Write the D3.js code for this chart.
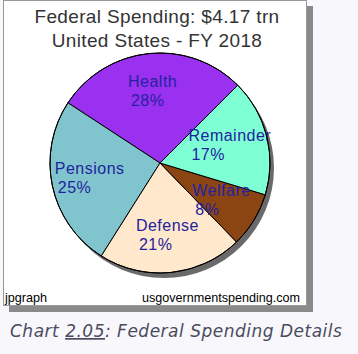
<!DOCTYPE html>
<html>
<head>
<meta charset="utf-8">
<script src="https://cdn.jsdelivr.net/npm/d3@7"></script>
<style>
  html, body { margin: 0; padding: 0; background: #f8f8fc; }
  svg { display: block; }
</style>
</head>
<body>
<div id="chart"></div>
<script>
// chart values (percent of total spending), in jpgraph's counterclockwise order
const categories = ["Health", "Pensions", "Defense", "Welfare", "Remainder"];
const shares = [28, 25, 21, 8, 17];
const sliceColors = ["#9a30f0", "#80c5cd", "#ffe8cc", "#8b4513", "#7fffd4"];
const titleLines = ["Federal Spending: $4.17 trn", "United States - FY 2018"];
const caption = { pre: "Chart ", num: "2.05", post: ": Federal Spending Details" };

const width = 358;
const height = 354;

const svg = d3.select("#chart")
    .append("svg")
    .attr("width", width)
    .attr("height", height);

// box shadow, then the white image box
svg.append("rect")
    .attr("x", 9).attr("y", 6)
    .attr("width", 304).attr("height", 306)
    .attr("fill", "#8a8a8a");
svg.append("rect")
    .attr("x", 3.5).attr("y", 0.5)
    .attr("width", 303).attr("height", 305)
    .attr("fill", "#fff")
    .attr("stroke", "#9a9a9a");

// title
svg.append("g")
    .selectAll("text")
    .data(titleLines)
    .enter()
    .append("text")
    .attr("x", 157)
    .attr("y", (d, i) => 23 + i * 24)
    .attr("text-anchor", "middle")
    .attr("font-family", "Liberation Sans, Arial, sans-serif")
    .attr("font-size", 19)
    .attr("letter-spacing", 0.35)
    .attr("fill", "#333")
    .text(d => d);

// pie
const cx = 160, cy = 163, radius = 110;
const pie = d3.pie()
    .sort(null)
    .startAngle(Math.PI / 4)
    .endAngle(Math.PI / 4 - 2 * Math.PI);
const arcs = pie(shares);
const arc = d3.arc().innerRadius(0).outerRadius(radius);
const labelArc = d3.arc().innerRadius(72).outerRadius(72);

const g = svg.append("g").attr("transform", `translate(${cx},${cy})`);

g.append("circle")
    .attr("cx", 4).attr("cy", 5)
    .attr("r", radius)
    .attr("fill", "#6a6a6a");

g.selectAll("path.slice")
    .data(arcs)
    .enter()
    .append("path")
    .attr("class", "slice")
    .attr("d", arc)
    .attr("fill", (d, i) => sliceColors[i])
    .attr("stroke", "#000")
    .attr("stroke-width", 1);

// labels: two lines, left aligned, block centred on the label point
const labels = g.selectAll("g.label")
    .data(arcs)
    .enter()
    .append("g")
    .attr("class", "label");

labels.each(function(d, i) {
    const grp = d3.select(this);
    const [lx, ly] = labelArc.centroid(d);
    const lines = [categories[i], d.data + "%"];
    const texts = grp.selectAll("text")
        .data(lines)
        .enter()
        .append("text")
        .attr("font-family", "Liberation Sans, Arial, sans-serif")
        .attr("font-size", 16)
        .attr("letter-spacing", 0.5)
        .attr("fill", "#2323a0")
        .text(t => t);
    let w = 0;
    texts.each(function() { w = Math.max(w, this.getComputedTextLength()); });
    texts.attr("x", (t, j) => lx - w / 2 + (j === 1 ? 3 : 0))
        .attr("y", (t, j) => ly - 4 + j * 19);
});

g.append("circle")
    .attr("r", radius)
    .attr("fill", "none")
    .attr("stroke", "#000");

// footer texts
svg.append("text")
    .attr("x", 5).attr("y", 302)
    .attr("font-family", "Liberation Sans, Arial, sans-serif")
    .attr("font-size", 13)
    .attr("textLength", 42)
    .attr("lengthAdjust", "spacingAndGlyphs")
    .attr("fill", "#000")
    .text("jpgraph");
svg.append("text")
    .attr("x", 142).attr("y", 302)
    .attr("font-family", "Liberation Sans, Arial, sans-serif")
    .attr("font-size", 13)
    .attr("textLength", 158)
    .attr("lengthAdjust", "spacingAndGlyphs")
    .attr("fill", "#000")
    .text("usgovernmentspending.com");

// caption under the image
const cap = svg.append("text")
    .attr("x", 10).attr("y", 337)
    .attr("font-family", "DejaVu Sans, Verdana, sans-serif")
    .attr("font-size", 17)
    .attr("letter-spacing", 0.5)
    .attr("font-style", "italic")
    .attr("fill", "#4b4b5e");
cap.append("tspan").text(caption.pre);
cap.append("tspan").attr("text-decoration", "underline").text(caption.num);
cap.append("tspan").text(caption.post);
</script>
</body>
</html>
